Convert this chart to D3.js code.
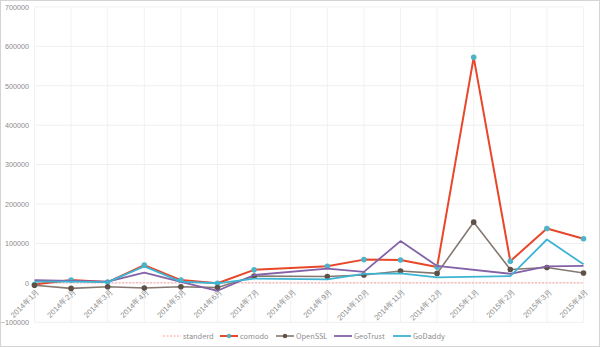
<!DOCTYPE html>
<html><head><meta charset="utf-8">
<script src="https://cdnjs.cloudflare.com/ajax/libs/d3/7.8.5/d3.min.js"></script>
<style>
html,body{margin:0;padding:0;background:#fff;}
svg{display:block;font-family:"Noto Sans CJK SC","Noto Sans",sans-serif;}
</style></head>
<body>
<svg id="c" width="600" height="347"></svg>
<script>
const categories = ["2014年1月","2014年2月","2014年3月","2014年4月","2014年5月","2014年6月","2014年7月","2014年8月","2014年9月","2014年10月","2014年11月","2014年12月","2015年1月","2015年2月","2015年3月","2015年4月"];
const yTicks = [-100000,0,100000,200000,300000,400000,500000,600000,700000];
const standerd = [0,0,0,0,0,0,0,0,0,0,0,0,0,0,0,0];
const comodo   = [-4000,7000,2000,45000,7000,-1000,33000,null,42000,59000,58000,40000,572000,55000,138000,112000];
const openssl  = [-6000,-14000,-10000,-13000,-10000,-12000,17000,null,16000,20000,30000,24000,154000,34000,39000,25000];
const geotrust = [7000,5000,3000,26000,2500,-20000,20000,null,36000,28000,106000,43000,null,23000,42000,43000];
const godaddy  = [3000,3000,2000,42000,3000,-1000,11000,null,9000,23000,24000,14000,null,17000,110000,47000];
const seriesNames = ["standerd","comodo","OpenSSL","GeoTrust","GoDaddy"];

const series = [
  {name:"standerd", data:standerd, color:"#ff9c9c", width:1, dash:"2,1.5", marker:null},
  {name:"comodo", data:comodo, color:"#e8472a", width:2, dash:null, marker:"#4fb3c8"},
  {name:"OpenSSL", data:openssl, color:"#857870", width:1.6, dash:null, marker:"#5e4f47"},
  {name:"GeoTrust", data:geotrust, color:"#8462a8", width:1.8, dash:null, marker:null},
  {name:"GoDaddy", data:godaddy, color:"#3db4d2", width:1.8, dash:null, marker:null}
];

const svg = d3.select("#c");
const x = d3.scalePoint().domain(categories).range([34.5, 583.5]);
const y = d3.scaleLinear().domain([-100000, 700000]).range([322.3, 6.9]);

// frame
svg.append("rect").attr("x",0.5).attr("y",0.5).attr("width",599).attr("height",346)
  .attr("fill","#fff").attr("stroke","#d4d4d4");

// gridlines
svg.append("g").selectAll("line").data(yTicks).join("line")
  .attr("x1",x.range()[0]).attr("x2",x.range()[1])
  .attr("y1",d=>y(d)).attr("y2",d=>y(d))
  .attr("stroke","#efefef").attr("stroke-width",1);
svg.append("g").selectAll("line").data(categories).join("line")
  .attr("x1",d=>x(d)).attr("x2",d=>x(d))
  .attr("y1",y(700000)).attr("y2",y(-100000))
  .attr("stroke","#f2f2f2").attr("stroke-width",1);

// y axis
const yAxis = d3.axisLeft(y).tickValues(yTicks).tickSize(0).tickPadding(0).tickFormat(d3.format("d"));
const gy = svg.append("g").attr("transform","translate(29,0)").call(yAxis);
gy.select(".domain").remove();
gy.selectAll("text").attr("fill","#8c8c8c").attr("font-size",7.2);

// x axis labels
const xAxis = d3.axisBottom(x).tickSize(0).tickPadding(0);
const gx = svg.append("g").attr("transform",`translate(0,${y(0)})`).call(xAxis);
gx.select(".domain").remove();
gx.selectAll("text")
  .attr("fill","#8c8c8c").attr("font-size",7.6)
  .attr("text-anchor","end")
  .attr("dy",0).attr("y",0)
  .attr("transform","translate(5,9) rotate(-45)");

// lines
const line = d3.line().x(d=>x(d.c)).y(d=>y(d.v));
series.forEach(s=>{
  const pts = categories.map((c,i)=>({c, v:s.data[i]})).filter(d=>d.v!=null);
  const g = svg.append("g");
  g.append("path").attr("d",line(pts)).attr("fill","none")
    .attr("stroke",s.color).attr("stroke-width",s.width)
    .attr("stroke-dasharray",s.dash).attr("stroke-linejoin","round");
  if (s.marker) {
    g.selectAll("circle").data(pts).join("circle")
      .attr("cx",d=>x(d.c)).attr("cy",d=>y(d.v)).attr("r",2.8)
      .attr("fill",s.marker);
  }
});

// legend
const legX = [163, 220, 276, 334, 393];
const legY = 336;
const lg = svg.append("g");
series.forEach((s,i)=>{
  const g = lg.append("g").attr("transform",`translate(${legX[i]},${legY})`);
  g.append("line").attr("x1",0).attr("x2",18).attr("y1",0).attr("y2",0)
    .attr("stroke",s.color).attr("stroke-width",s.width).attr("stroke-dasharray",s.dash);
  if (s.marker) g.append("circle").attr("cx",9).attr("cy",0).attr("r",2.2).attr("fill",s.marker);
  g.append("text").attr("x",20).attr("y",0).attr("dy","0.35em")
    .attr("font-size",7.4).attr("fill","#8c8c8c").text(seriesNames[i]);
});
</script>
</body></html>
